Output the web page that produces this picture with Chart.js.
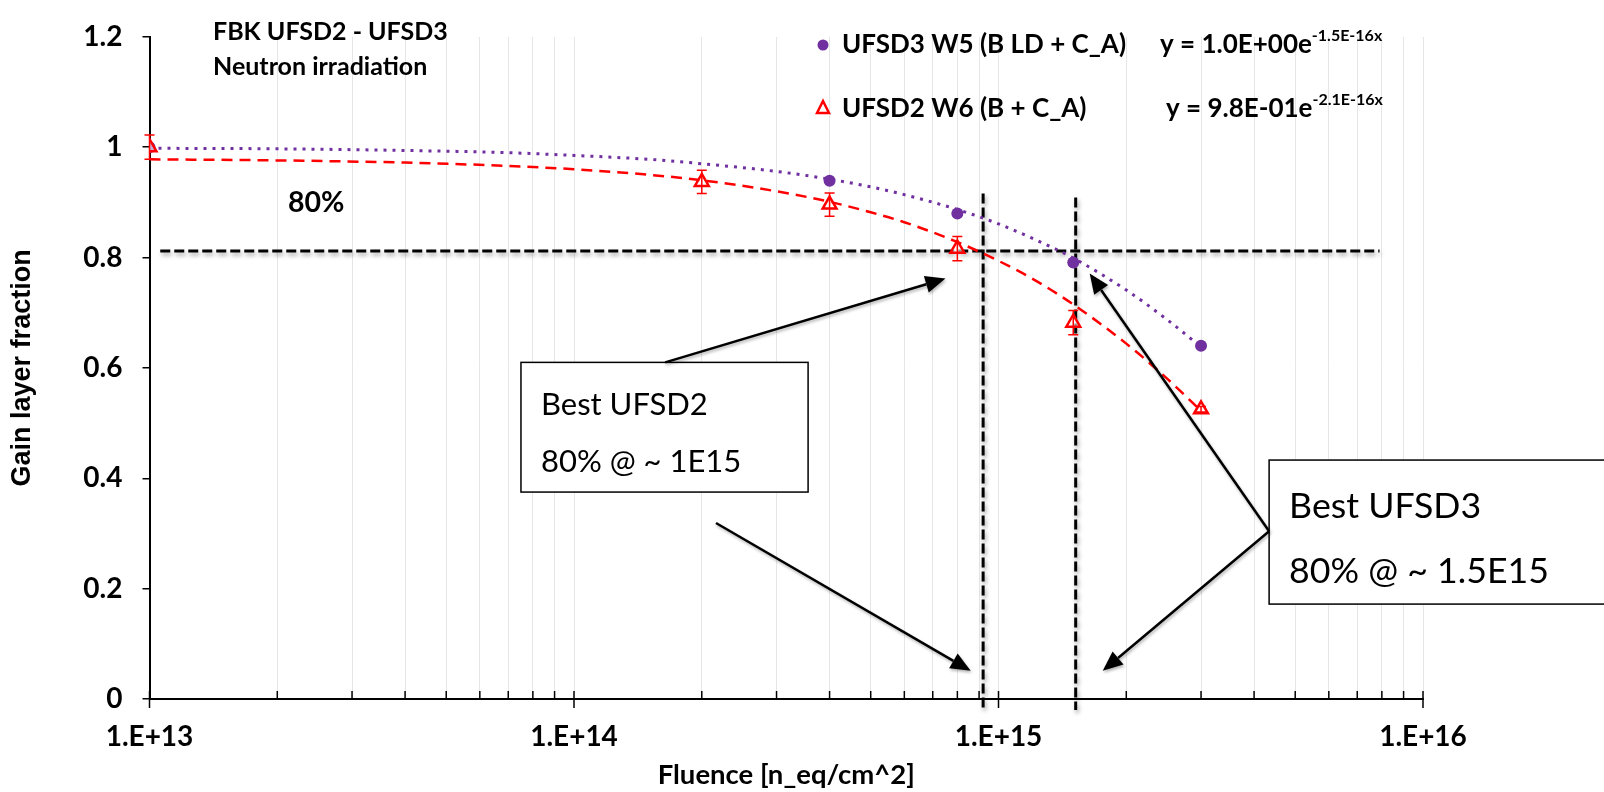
<!DOCTYPE html>
<html><head><meta charset="utf-8">
<script src="https://cdn.jsdelivr.net/npm/chart.js@4.4.1/dist/chart.umd.min.js"></script>
<style>html,body{margin:0;padding:0;background:#fff}canvas{display:block}</style>
</head><body><canvas id="c" width="1604" height="792"></canvas>
<script>
// ---- data ----
const ufsd3Fluence = [1e13, 4e14, 8e14, 1.5e15, 3e15];
const ufsd3Gain    = [1.0, 0.939, 0.880, 0.791, 0.640];
const ufsd2Fluence = [1e13, 2e14, 4e14, 8e14, 1.5e15, 3e15];
const ufsd2Gain    = [1.0, 0.937, 0.896, 0.816, 0.682, 0.525];
const ufsd2Err     = [0.022, 0.021, 0.021, 0.022, 0.022, 0.005];
// trendline values
const trendFluence = [1e13, 2e13, 4e13, 7e13, 1e14, 1.5e14, 2e14, 3e14, 4e14, 5e14, 6e14, 8e14, 1e15, 1.2e15, 1.5e15, 2e15, 2.5e15, 3e15];
const ufsd3Trend   = [0.998, 0.997, 0.994, 0.990, 0.985, 0.978, 0.970, 0.956, 0.942, 0.928, 0.914, 0.887, 0.861, 0.835, 0.799, 0.741, 0.687, 0.638];
const ufsd2Trend   = [0.978, 0.976, 0.972, 0.966, 0.960, 0.950, 0.940, 0.920, 0.901, 0.882, 0.864, 0.828, 0.794, 0.762, 0.715, 0.644, 0.580, 0.522];
// 80% guide lines
const guideHX = [1.06e13, 7.9e15];
const guideHY = [0.812, 0.812];
const guideV1X = [9.2e14, 9.2e14];
const guideV2X = [1.52e15, 1.52e15];
const guideVY1 = [0.916, -0.02];
const guideVY2 = [0.909, -0.02];
const xMajorLabels = ['1.E+13', '1.E+14', '1.E+15', '1.E+16'];
const yTickLabels = ['0', '0.2', '0.4', '0.6', '0.8', '1', '1.2'];

const zip = (xs, ys) => xs.map((x, i) => ({x: x, y: ys[i]}));
const PURPLE = '#7030A0', RED = '#FF0000';
const FONT = 'Lato, Carlito, Calibri, "Open Sans", sans-serif';
const ARIAL = '"Liberation Sans", Arial, sans-serif';

// annotation layout (in data coordinates)
const boxes = [
  {x0: 7.5e13, x1: 3.56e14, yTop: 0.610, yBot: 0.375, lines: ['Best UFSD2', '80% @ ~ 1E15'], size: 31, base: [0.515, 0.411]},
  {x0: 4.34e15, x1: 3e16, yTop: 0.433, yBot: 0.172, lines: ['Best UFSD3', '80% @ ~ 1.5E15'], size: 35.7, base: [0.328, 0.2105]}
];
const arrows = [
  {from: [1.64e14, 0.610], to: [7.5e14, 0.762]},
  {from: [2.16e14, 0.319], to: [8.6e14, 0.051]},
  {from: [4.34e15, 0.304], to: [1.64e15, 0.771]},
  {from: [4.34e15, 0.304], to: [1.76e15, 0.051]}
];

const shadowPlugin = {
  id: 'shadowLines',
  beforeDatasetDraw(chart, args) {
    const ds = chart.data.datasets[args.index];
    if (ds.shadow) {
      const ctx = chart.ctx; ctx.save();
      ctx.shadowColor = 'rgba(0,0,0,0.35)'; ctx.shadowBlur = 4; ctx.shadowOffsetX = 1.5; ctx.shadowOffsetY = 3;
    }
  },
  afterDatasetDraw(chart, args) {
    const ds = chart.data.datasets[args.index];
    if (ds.shadow) chart.ctx.restore();
  }
};

function arrow(ctx, x1, y1, x2, y2) {
  const a = Math.atan2(y2 - y1, x2 - x1), L = 20, W = 8.5;
  const bx = x2 - L * Math.cos(a), by = y2 - L * Math.sin(a);
  ctx.beginPath(); ctx.moveTo(x1, y1); ctx.lineTo(bx, by); ctx.stroke();
  ctx.beginPath(); ctx.moveTo(x2, y2);
  ctx.lineTo(bx + W * Math.sin(a), by - W * Math.cos(a));
  ctx.lineTo(bx - W * Math.sin(a), by + W * Math.cos(a));
  ctx.closePath(); ctx.fill();
}

const decorPlugin = {
  id: 'decor',
  afterDraw(chart) {
    const ctx = chart.ctx, xs = chart.scales.x, ys = chart.scales.y, ca = chart.chartArea;
    const X = v => xs.getPixelForValue(v), Y = v => ys.getPixelForValue(v);
    ctx.save();
    // x axis tick marks (minor inside, major crossing)
    ctx.strokeStyle = '#000'; ctx.lineWidth = 1.5;
    xs.ticks.forEach(t => {
      const px = X(t.value); const maj = Math.abs(Math.log10(t.value) - Math.round(Math.log10(t.value))) < 1e-9;
      ctx.beginPath(); ctx.moveTo(px, ca.bottom - 8); ctx.lineTo(px, maj ? ca.bottom + 9 : ca.bottom); ctx.stroke();
    });
    // error bars
    ctx.strokeStyle = RED; ctx.lineWidth = 1.5;
    ufsd2Fluence.forEach((f, i) => {
      const px = X(f), t = Y(ufsd2Gain[i] + ufsd2Err[i]), b = Y(ufsd2Gain[i] - ufsd2Err[i]);
      ctx.beginPath(); ctx.moveTo(px, t); ctx.lineTo(px, b);
      ctx.moveTo(px - 5, t); ctx.lineTo(px + 5, t); ctx.moveTo(px - 5, b); ctx.lineTo(px + 5, b); ctx.stroke();
    });
    // boxes
    boxes.forEach(bx => {
      const l = X(bx.x0), r = X(bx.x1), t = Y(bx.yTop), b = Y(bx.yBot);
      ctx.fillStyle = '#fff'; ctx.fillRect(l, t, r - l, b - t);
      ctx.strokeStyle = '#000'; ctx.lineWidth = 1.5; ctx.strokeRect(l, t, r - l, b - t);
      ctx.fillStyle = '#000'; ctx.font = bx.size + 'px ' + FONT; ctx.textBaseline = 'alphabetic'; ctx.textAlign = 'left';
      bx.lines.forEach((s, i) => ctx.fillText(s, l + 20, Y(bx.base[i])));
    });
    // arrows
    ctx.strokeStyle = '#000'; ctx.fillStyle = '#000'; ctx.lineWidth = 2.5;
    ctx.shadowColor = 'rgba(0,0,0,0.3)'; ctx.shadowBlur = 3; ctx.shadowOffsetX = 1; ctx.shadowOffsetY = 2;
    arrows.forEach(a => arrow(ctx, X(a.from[0]), Y(a.from[1]), X(a.to[0]), Y(a.to[1])));
    ctx.shadowColor = 'transparent';
    // titles inside plot
    ctx.fillStyle = '#000'; ctx.textAlign = 'left'; ctx.textBaseline = 'middle';
    ctx.font = 'bold 25px ' + FONT;
    ctx.fillText('FBK UFSD2 - UFSD3', 213, 32);
    ctx.fillText('Neutron irradiation', 213, 67);
    ctx.font = 'bold 28.5px ' + FONT;
    ctx.fillText('80%', 288, 203);
    // legend
    ctx.font = 'bold 26px ' + FONT;
    ctx.fillText('UFSD3 W5 (B LD + C_A)', 842, 45);
    ctx.fillText('UFSD2 W6 (B + C_A)', 842, 109);
    const eq = (x, y, base, sup) => {
      ctx.font = 'bold 26px ' + FONT; ctx.fillText(base, x, y);
      const w = ctx.measureText(base).width;
      ctx.font = 'bold 16px ' + FONT; ctx.fillText(sup, x + w, y - 9);
    };
    eq(1160, 45, 'y = 1.0E+00e', '-1.5E-16x');
    eq(1166, 109, 'y = 9.8E-01e', '-2.1E-16x');
    ctx.fillStyle = PURPLE; ctx.beginPath(); ctx.arc(823, 45, 5.5, 0, Math.PI * 2); ctx.fill();
    ctx.strokeStyle = RED; ctx.lineWidth = 2.5; ctx.beginPath();
    ctx.moveTo(823, 101); ctx.lineTo(829, 113); ctx.lineTo(817, 113); ctx.closePath(); ctx.stroke();
    ctx.restore();
  }
};

new Chart(document.getElementById('c'), {
  type: 'scatter',
  data: {
    datasets: [
      {label: 'UFSD2 W6 (B + C_A)', data: zip(ufsd2Fluence, ufsd2Gain), showLine: false, pointStyle: 'triangle',
       pointRadius: 8, pointBorderWidth: 2.5, borderColor: RED, backgroundColor: 'rgba(255,255,255,0.6)', order: 0},
      {label: 'UFSD3 W5 (B LD + C_A)', data: zip(ufsd3Fluence, ufsd3Gain), showLine: false, pointStyle: 'circle',
       pointRadius: 6, borderColor: PURPLE, backgroundColor: PURPLE, pointBorderWidth: 0, order: 1},
      {label: 'fit3', data: zip(trendFluence, ufsd3Trend), showLine: true, pointRadius: 0, borderColor: PURPLE,
       borderWidth: 3, borderDash: [3, 6], cubicInterpolationMode: 'monotone', order: 2},
      {label: 'fit2', data: zip(trendFluence, ufsd2Trend), showLine: true, pointRadius: 0, borderColor: RED,
       borderWidth: 2.5, borderDash: [11, 7], cubicInterpolationMode: 'monotone', order: 3},
      {label: 'h80', data: zip(guideHX, guideHY), showLine: true, pointRadius: 0, borderColor: '#000', borderWidth: 3,
       borderDash: [10, 4], shadow: true, order: 4, clip: false},
      {label: 'v1', data: zip(guideV1X, guideVY1), showLine: true, pointRadius: 0, borderColor: '#000', borderWidth: 3,
       borderDash: [10, 4], shadow: true, order: 5, clip: false},
      {label: 'v2', data: zip(guideV2X, guideVY2), showLine: true, pointRadius: 0, borderColor: '#000', borderWidth: 3,
       borderDash: [10, 4], shadow: true, order: 6, clip: false}
    ]
  },
  options: {
    responsive: false, animation: false, devicePixelRatio: 1,
    layout: {padding: {top: 20, right: 181, left: 0, bottom: 0}},
    plugins: {legend: {display: false}, tooltip: {enabled: false}},
    scales: {
      x: {
        type: 'logarithmic', min: 1e13, max: 1e16,
        afterBuildTicks(scale) {
          const t = [];
          for (let e = 13; e <= 15; e++) for (let m = 1; m <= 9; m++) t.push({value: m * Math.pow(10, e)});
          t.push({value: 1e16});
          scale.ticks = t;
        },
        afterFit(scale) { scale.height = 93; },
        ticks: {
          autoSkip: false, maxRotation: 0, minRotation: 0, padding: 21, color: '#000',
          font: {family: FONT, size: 28, weight: 'bold'},
          callback(v) {
            const e = Math.log10(v);
            if (Math.abs(e - Math.round(e)) < 1e-9) return xMajorLabels[Math.round(e) - 13];
            return '';
          }
        },
        grid: {color: '#e6e6e6', lineWidth: 1, drawTicks: false},
        border: {color: '#000', width: 2},
        title: {display: true, text: 'Fluence [n_eq/cm^2]', color: '#000', font: {family: FONT, size: 27.5, weight: 'bold'},
                padding: {top: 0, bottom: 0}}
      },
      y: {
        min: 0, max: 1.2,
        afterFit(scale) { scale.width = 149.5; },
        ticks: {
          stepSize: 0.2, padding: 20, color: '#000', font: {family: FONT, size: 28, weight: 'bold'},
          callback(v) { return yTickLabels[Math.round(v / 0.2)]; }
        },
        grid: {drawOnChartArea: false, drawTicks: true, tickLength: 7, color: '#000', lineWidth: 1.5},
        border: {color: '#000', width: 2},
        title: {display: true, text: 'Gain layer fraction', color: '#000', font: {family: ARIAL, size: 27, weight: 'bold'},
                padding: {top: 6, bottom: 0}}
      }
    }
  },
  plugins: [shadowPlugin, decorPlugin]
});
</script>
</body></html>
